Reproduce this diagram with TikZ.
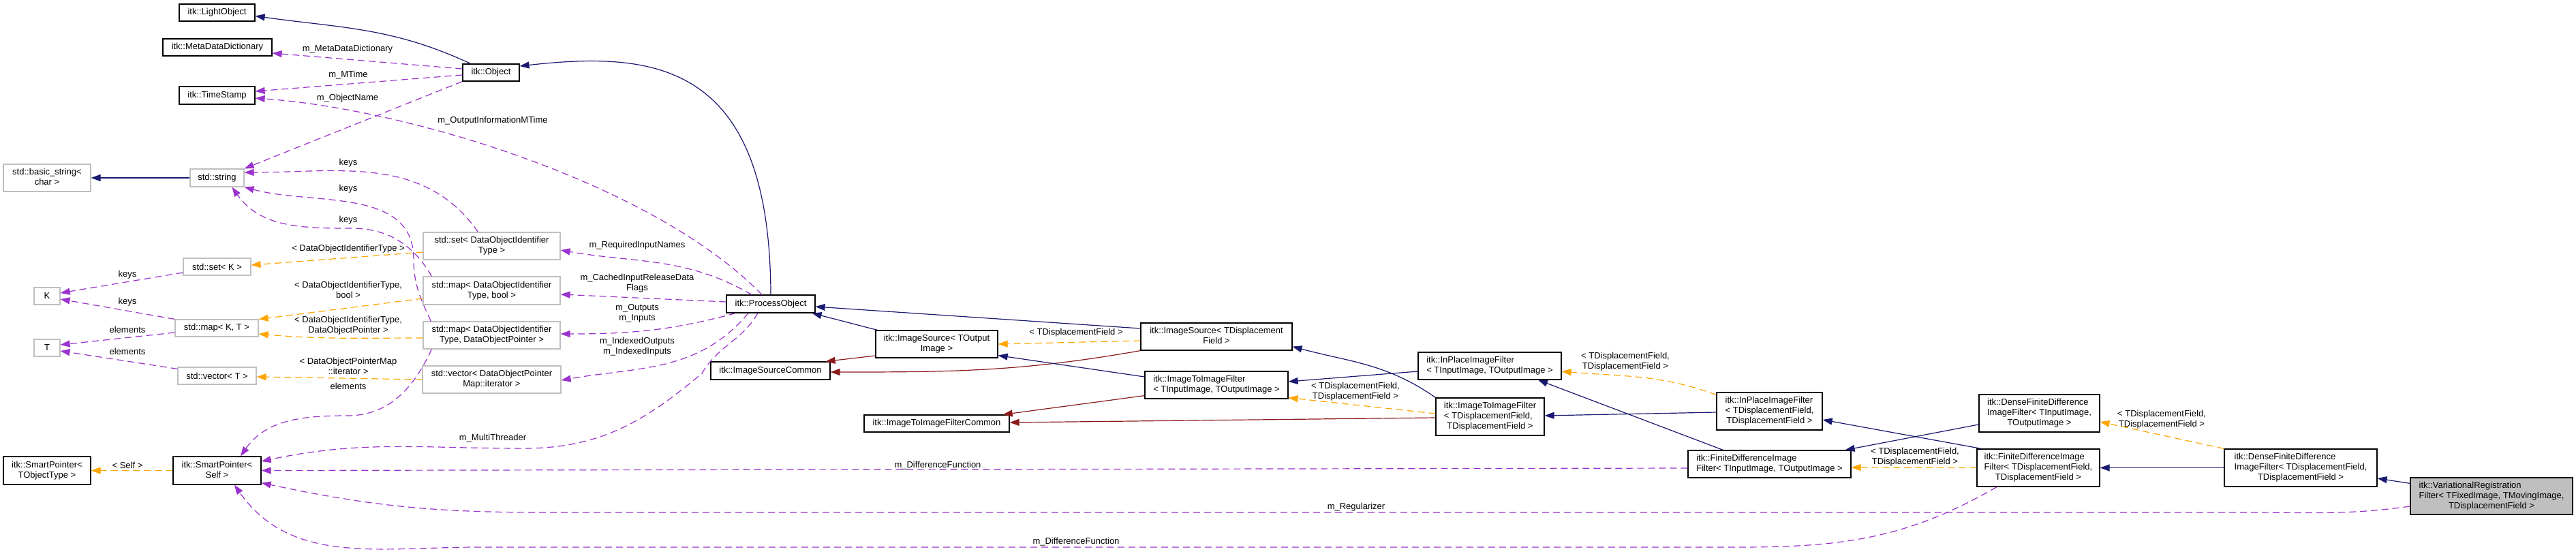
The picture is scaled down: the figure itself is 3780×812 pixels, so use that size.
\documentclass[tikz,border=0pt]{standalone}
\usepackage{fontspec}
\setmainfont{Liberation Sans}
\usetikzlibrary{arrows.meta}

\definecolor{inhblue}{HTML}{191970}
\definecolor{protred}{HTML}{8B1A1A}
\definecolor{usepurple}{HTML}{9A32CD}
\definecolor{tmplorange}{HTML}{FFA500}
\definecolor{boxgray}{HTML}{BFBFBF}

% class names: left lines, last line centred
\newcommand{\ltwo}[2]{\begin{tabular}{@{}l@{}}#1\\\multicolumn{1}{@{}c@{}}{#2}\end{tabular}}
\newcommand{\lthree}[3]{\begin{tabular}{@{}l@{}}#1\\#2\\\multicolumn{1}{@{}c@{}}{#3}\end{tabular}}

\begin{document}
\begin{tikzpicture}[x=1pt, y=-1pt,
    cls/.style={draw=black, line width=1.2pt, fill=white, inner sep=0pt, font=\fontsize{13}{15}\selectfont},
    ext/.style={cls, draw=boxgray},
    lbl/.style={inner sep=0pt, align=center, font=\fontsize{13}{15}\selectfont},
    inhline/.style={inhblue, line width=1.2pt, -{Triangle[length=14pt,width=10pt]}},
    protline/.style={protred, line width=1.2pt, -{Triangle[length=14pt,width=10pt]}},
    useline/.style={usepurple, line width=1.2pt, dash pattern=on 10pt off 6pt, -{Triangle[length=14pt,width=10pt]}},
    tmplline/.style={tmplorange, line width=1.2pt, dash pattern=on 10pt off 6pt, -{Triangle[length=14pt,width=10pt]}}]
    \useasboundingbox (0,0) rectangle (3780,812);

    % Left column: std and itk helpers
    \node[cls, minimum width=111pt, minimum height=25pt] (lightobj) at (318.5,18.5) {itk::LightObject};
    \node[cls, minimum width=160pt, minimum height=25pt] (metadict) at (319,69.5) {itk::MetaDataDictionary};
    \node[cls, minimum width=111pt, minimum height=26pt] (timestamp) at (318.5,140) {itk::TimeStamp};
    \node[cls, minimum width=83pt, minimum height=25pt] (object) at (720.5,106.5) {itk::Object};
    \node[ext, minimum width=128pt, minimum height=40pt] (basicstr) at (69,261) {\ltwo{std::basic\_string<}{char >}};
    \node[ext, minimum width=79pt, minimum height=26pt] (stdstring) at (318.5,261) {std::string};
    \node[ext, minimum width=99pt, minimum height=25pt] (setk) at (318.5,391.5) {std::set< K >};
    \node[ext, minimum width=38pt, minimum height=25pt] (nodek) at (69,434.5) {K};
    \node[ext, minimum width=122pt, minimum height=25pt] (mapkt) at (318,481.5) {std::map< K, T >};
    \node[ext, minimum width=38pt, minimum height=25pt] (nodet) at (69,510.5) {T};
    \node[ext, minimum width=115pt, minimum height=25pt] (vect) at (318.5,551.5) {std::vector< T >};
    \node[cls, minimum width=128pt, minimum height=41pt] (sptype) at (69,690.5) {\ltwo{itk::SmartPointer<}{TObjectType >}};
    \node[cls, minimum width=129pt, minimum height=41pt] (spself) at (318.5,690.5) {\ltwo{itk::SmartPointer<}{Self >}};

    % Containers of the process object
    \node[ext, minimum width=201pt, minimum height=40pt] (setdoit) at (721.5,361) {\ltwo{std::set< DataObjectIdentifier}{Type >}};
    \node[ext, minimum width=201pt, minimum height=41pt] (mapbool) at (721.5,426.5) {\ltwo{std::map< DataObjectIdentifier}{Type, bool >}};
    \node[ext, minimum width=201pt, minimum height=40pt] (mapdop) at (721.5,492) {\ltwo{std::map< DataObjectIdentifier}{Type, DataObjectPointer >}};
    \node[ext, minimum width=203pt, minimum height=40pt] (vecdop) at (721.5,557) {\ltwo{std::vector< DataObjectPointer}{Map::iterator >}};

    % Filter hierarchy
    \node[cls, minimum width=130pt, minimum height=26pt] (procobj) at (1131,446) {itk::ProcessObject};
    \node[cls, minimum width=175pt, minimum height=26pt] (srccommon) at (1130.5,544) {itk::ImageSourceCommon};
    \node[cls, minimum width=179pt, minimum height=40pt] (srcout) at (1374.5,505) {\ltwo{itk::ImageSource< TOutput}{Image >}};
    \node[cls, minimum width=222pt, minimum height=40pt] (srcdf) at (1785,494) {\ltwo{itk::ImageSource< TDisplacement}{Field >}};
    \node[cls, minimum width=213pt, minimum height=25pt] (i2icommon) at (1374.5,621.5) {itk::ImageToImageFilterCommon};
    \node[cls, minimum width=210pt, minimum height=40pt] (i2iin) at (1785,565) {\ltwo{itk::ImageToImageFilter}{< TInputImage, TOutputImage >}};
    \node[cls, minimum width=210pt, minimum height=40pt] (inplacein) at (2186,537) {\ltwo{itk::InPlaceImageFilter}{< TInputImage, TOutputImage >}};
    \node[cls, minimum width=159pt, minimum height=55pt] (i2idf) at (2186.5,611.5) {\lthree{itk::ImageToImageFilter}{< TDisplacementField,}{TDisplacementField >}};
    \node[cls, minimum width=155pt, minimum height=55pt] (inplacedf) at (2596.5,603.5) {\lthree{itk::InPlaceImageFilter}{< TDisplacementField,}{TDisplacementField >}};
    \node[cls, minimum width=239pt, minimum height=40pt] (fdifin) at (2596.5,681) {\ltwo{itk::FiniteDifferenceImage}{Filter< TInputImage, TOutputImage >}};
    \node[cls, minimum width=177pt, minimum height=55pt] (densein) at (2992.5,606.5) {\lthree{itk::DenseFiniteDifference}{ImageFilter< TInputImage,}{TOutputImage >}};
    \node[cls, minimum width=180pt, minimum height=55pt] (fdifdf) at (2991,686.5) {\lthree{itk::FiniteDifferenceImage}{Filter< TDisplacementField,}{TDisplacementField >}};
    \node[cls, minimum width=224pt, minimum height=55pt] (densedf) at (3376,686.5) {\lthree{itk::DenseFiniteDifference}{ImageFilter< TDisplacementField,}{TDisplacementField >}};
    \node[cls, fill=boxgray, minimum width=238pt, minimum height=54pt] (varreg) at (3656,728) {\lthree{itk::VariationalRegistration}{Filter< TFixedImage, TMovingImage,}{TDisplacementField >}};

    % Edge labels
    \node[lbl] (lmeta) at (510,72) {m\_MetaDataDictionary};
    \node[lbl] (lmtime) at (511,110) {m\_MTime};
    \node[lbl] (lobjname) at (510,144) {m\_ObjectName};
    \node[lbl] (loutmtime) at (723,177) {m\_OutputInformationMTime};
    \node[lbl] (lkeysa) at (511,239) {keys};
    \node[lbl] (lkeysb) at (511,277) {keys};
    \node[lbl] (lkeysc) at (511,323) {keys};
    \node[lbl] (lsetk) at (511,365) {< DataObjectIdentifierType >};
    \node[lbl] (lkeysk) at (187,403) {keys};
    \node[lbl] (lkeysm) at (187,443) {keys};
    \node[lbl] (lelemm) at (187,484) {elements};
    \node[lbl] (lelemv) at (187,516) {elements};
    \node[lbl] (lmapbool) at (511,425.5) {< DataObjectIdentifierType,\\ bool >};
    \node[lbl] (lmapdop) at (511,477.5) {< DataObjectIdentifierType,\\ DataObjectPointer >};
    \node[lbl] (lvecdop) at (511,537.5) {< DataObjectPointerMap\\ ::iterator >};
    \node[lbl] (lelemsp) at (511,567) {elements};
    \node[lbl] (lself) at (187,683) {< Self >};
    \node[lbl] (lreqin) at (935,360) {m\_RequiredInputNames};
    \node[lbl] (lcached) at (935,415.5) {m\_CachedInputReleaseData\\ Flags};
    \node[lbl] (loutputs) at (935,459.5) {m\_Outputs\\ m\_Inputs};
    \node[lbl] (lindexed) at (935,508.5) {m\_IndexedOutputs\\ m\_IndexedInputs};
    \node[lbl] (lthreader) at (723,643) {m\_MultiThreader};
    \node[lbl] (ldiffa) at (1376,683) {m\_DifferenceFunction};
    \node[lbl] (ldiffb) at (1579,795) {m\_DifferenceFunction};
    \node[lbl] (lreg) at (1990,744) {m\_Regularizer};
    \node[lbl] (ltdf) at (1579,488) {< TDisplacementField >};
    \node[lbl] (li2i) at (1989,574.5) {< TDisplacementField,\\ TDisplacementField >};
    \node[lbl] (linplace) at (2385,530.5) {< TDisplacementField,\\ TDisplacementField >};
    \node[lbl] (lfdif) at (2810,670.5) {< TDisplacementField,\\ TDisplacementField >};
    \node[lbl] (ldense) at (3172,616) {< TDisplacementField,\\ TDisplacementField >};

    % Object and its members
    \draw[inhline] ([xshift=-30pt]object.north) to[out=155, in=-8] ([yshift=-5pt]lightobj.east);
    \draw[useline] ([yshift=5.5pt]object.west) -- ([yshift=-8.5pt]metadict.east);
    \draw[useline] ([yshift=-3.5pt]object.west) -- ([yshift=6pt]timestamp.east);
    \draw[useline] (object.south west) -- (stdstring.north east);
    \draw[useline] ([xshift=-13pt]procobj.north) .. controls (960,270) and (600,160) .. ([yshift=-4pt]timestamp.east);
    \draw[inhline] (stdstring.west) -- (basicstr.east);

    % keys into std::string
    \draw[useline] ([xshift=-20pt]setdoit.north) to[out=125, in=0] ([yshift=8pt]stdstring.east);
    \draw[useline] ([xshift=12pt]mapdop.north west) to[out=115, in=-90] (607,380) to[out=90, in=-15] (stdstring.south east);
    \draw[useline] ([xshift=13pt]mapbool.north west) to[out=120, in=0] (515,335) to[out=180, in=-55] ([xshift=22pt]stdstring.south);

    % std templates
    \draw[tmplline] ([yshift=-9pt]setdoit.west) -- ([yshift=2.5pt]setk.east);
    \draw[useline] ([yshift=-8.5pt]setk.west) -- ([yshift=4.5pt]nodek.east);
    \draw[useline] (mapkt.north west) -- ([yshift=-4.5pt]nodek.east);
    \draw[useline] ([yshift=-6.5pt]mapkt.west) -- ([yshift=4.5pt]nodet.east);
    \draw[useline] ([yshift=-3pt]vect.north west) -- ([yshift=-4.5pt]nodet.east);
    \draw[tmplline] ([yshift=-11.5pt]mapbool.west) -- (mapkt.north east);
    \draw[tmplline] ([yshift=-4pt]mapdop.west) to[out=180, in=-5] ([yshift=-8.5pt]mapkt.east);
    \draw[tmplline] (vecdop.west) -- ([yshift=-1.5pt]vect.east);
    \draw[tmplline] (spself.west) -- (sptype.east);
    \draw[useline] ([xshift=13pt]mapdop.south west) to[out=-115, in=0] (510,610) to[out=180, in=55] ([xshift=34.5pt]spself.north);

    % ProcessObject
    \draw[inhline] (procobj.north) .. controls (1130,90) and (960,75) .. ([yshift=9.5pt]object.east);
    \draw[useline] ([xshift=-28pt]procobj.north) to[out=150, in=-10] ([yshift=-6pt]setdoit.east);
    \draw[useline] ([yshift=3pt]procobj.west) -- ([yshift=-5.5pt]mapbool.east);
    \draw[useline] ([xshift=14pt]procobj.south west) to[out=-165, in=0] ([yshift=2pt]mapdop.east);
    \draw[useline] ([xshift=-33pt]procobj.south) to[out=-130, in=10] ([yshift=-1pt]vecdop.east);
    \draw[useline] ([xshift=-19pt]procobj.south) to[out=-120, in=60] (1030,548) to[out=-140, in=0] (768,658) to[out=180, in=12] ([yshift=13.5pt]spself.east);

    % Members of the filters
    \draw[useline] ([yshift=-6pt]fdifin.west) -- (spself.east);
    \draw[useline] ([yshift=-15pt]varreg.west) to[out=188, in=0] (3300,752) -- (800,752) to[out=180, in=-12] ([yshift=3pt]spself.south east);
    \draw[useline] ([xshift=-61pt]fdifdf.south) to[out=-150, in=0] (2550,803) -- (700,803) to[out=180, in=-55] ([xshift=25.5pt]spself.south);

    % Image sources
    \draw[inhline] ([xshift=3pt]srcout.north west) -- ([xshift=-5pt]procobj.south east);
    \draw[inhline] ([yshift=12pt]srcdf.west) -- ([yshift=-4pt]procobj.east);
    \draw[protline] ([yshift=-17pt]srcout.west) -- ([xshift=-7pt]srccommon.north east);
    \draw[protline] (srcdf.south west) to[out=-170, in=0] ([yshift=-2pt]srccommon.east);
    \draw[tmplline] ([yshift=-6pt]srcdf.west) -- (srcout.east);

    % Image to image filters
    \draw[inhline] ([yshift=12pt]i2iin.west) -- ([yshift=4pt]srcout.south east);
    \draw[protline] ([yshift=5pt]i2iin.south west) -- ([xshift=-10pt]i2icommon.north east);
    \draw[protline] ([yshift=-1.5pt]i2idf.west) -- ([yshift=1.5pt]i2icommon.east);
    \draw[tmplline] ([yshift=4.5pt]i2idf.west) -- ([yshift=2pt]i2iin.south east);
    \draw[inhline] ([yshift=-8pt]inplacein.west) -- ([yshift=5pt]i2iin.east);
    \draw[inhline] (i2idf.north west) to[out=145, in=-15] ([yshift=6pt]srcdf.south east);

    % In place and finite difference filters
    \draw[inhline] ([yshift=-1.5pt]inplacedf.west) -- ([yshift=1.5pt]i2idf.east);
    \draw[tmplline] ([yshift=-4pt]inplacedf.north west) to[out=160, in=-5] ([yshift=-8pt]inplacein.east);
    \draw[inhline] ([xshift=52pt]fdifin.north west) -- ([xshift=71pt]inplacein.south);
    \draw[inhline] ([xshift=7pt]fdifdf.north west) -- ([yshift=-12.5pt]inplacedf.east);
    \draw[inhline] ([yshift=-16.5pt]densein.west) -- ([xshift=-9pt]fdifin.north east);
    \draw[tmplline] (fdifdf.west) -- ([yshift=-5pt]fdifin.east);
    \draw[inhline] (densedf.west) -- (fdifdf.east);
    \draw[tmplline] (densedf.north west) -- ([yshift=-12.5pt]densein.east);
    \draw[inhline] ([yshift=-9pt]varreg.north west) -- ([yshift=-15.5pt]densedf.east);
\end{tikzpicture}
\end{document}
